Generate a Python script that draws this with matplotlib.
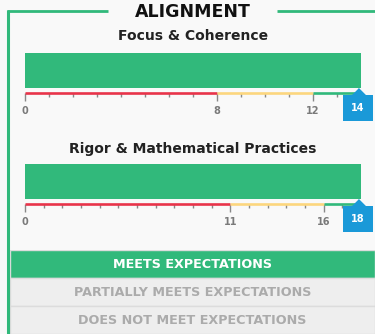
import matplotlib
matplotlib.use("Agg")
import matplotlib.pyplot as plt
import matplotlib.transforms as mtransforms
from matplotlib.lines import Line2D
from matplotlib.ticker import FixedLocator

# donnees
section_title = "ALIGNMENT"
gauge_titles = ["Focus & Coherence", "Rigor & Mathematical Practices"]
gauge_scores = [14, 18]
gauge_max = [14, 18]
gauge_partial = [8, 11]    # debut "partially meets"
gauge_meets = [12, 16]     # debut "meets"
ratings = ["MEETS EXPECTATIONS", "PARTIALLY MEETS EXPECTATIONS", "DOES NOT MEET EXPECTATIONS"]
current_rating = "MEETS EXPECTATIONS"

GREEN = "#31b97b"
RED = "#e8344a"
YELLOW = "#fcd67e"
BLUE = "#1a99d8"
BG = "#f9f9f9"
FONT = "DejaVu Sans"

W, H = 375, 334
fig = plt.figure(figsize=(W / 100, H / 100), dpi=100)
fig.patch.set_facecolor(BG)


def fx(px):
    return px / W


def fy(py):
    return 1 - py / H


# cadre vert
fig.add_artist(Line2D([fx(8), fx(8)], [fy(10), fy(334)], color=GREEN, lw=2.2, solid_capstyle="butt"))
fig.add_artist(Line2D([fx(6.5), fx(108)], [fy(11), fy(11)], color=GREEN, lw=2, solid_capstyle="butt"))
fig.add_artist(Line2D([fx(277), fx(375)], [fy(11), fy(11)], color=GREEN, lw=2, solid_capstyle="butt"))
fig.text(fx(193), fy(12), section_title, ha="center", va="center", fontsize=12.5,
         fontweight="bold", family=FONT, color="#111111")

#----------------------------------------------------------------------
# jauges
tops = [53, 164]
lines = [93, 204]
title_y = [36, 149]

# marqueurs
pointer = [(-1, 0), (1, 0), (0, 1)]
box = [(-15, -13), (15, -13), (15, 13), (-15, 13), (-15, -13)]

for i in range(len(gauge_titles)):
    h = lines[i] - tops[i]
    ax = fig.add_axes([fx(25), fy(lines[i]), fx(361) - fx(25), h / H])
    ax.set_xlim(0, gauge_max[i])
    ax.set_ylim(0, 1)
    ax.patch.set_alpha(0)
    for s in ax.spines.values():
        s.set_visible(False)
    ax.set_yticks([])

    fig.text(fx(193), fy(title_y[i]), gauge_titles[i], ha="center", va="center",
             fontsize=10, fontweight="bold", family=FONT, color="#222222")

    ax.barh(1 - 35 / h / 2, gauge_scores[i], height=35 / h, color=GREEN)

    ax.hlines([0, 0, 0], [0, gauge_partial[i], gauge_meets[i]],
              [gauge_partial[i], gauge_meets[i], gauge_max[i]],
              colors=[RED, YELLOW, GREEN], lw=1.9, clip_on=False, zorder=3)

    majors = [0, gauge_partial[i], gauge_meets[i]]
    ax.set_xticks(majors)
    ax.set_xticklabels([str(v) for v in majors], family=FONT, fontsize=7,
                       fontweight="bold", color="#7a7a7a")
    ax.xaxis.set_minor_locator(FixedLocator([v for v in range(1, gauge_max[i]) if v not in majors]))
    ax.tick_params(axis="x", which="major", length=5.5, width=1, color="#888888", pad=4)
    ax.tick_params(axis="x", which="minor", length=3, width=1, color="#888888")

    # bulle du score
    tr = mtransforms.offset_copy(ax.transData, fig=fig, x=-3, y=0, units="dots")
    tip = 1 - 35 / h
    ax.plot(gauge_scores[i], tip - 7 / h, marker=pointer, ms=10, color=BLUE,
            transform=tr, clip_on=False, zorder=5)
    ax.plot(gauge_scores[i], tip - 20 / h, marker=box, ms=21.6, color=BLUE, mew=0,
            transform=tr, clip_on=False, zorder=5)
    ax.text(gauge_scores[i], tip - 20 / h, str(gauge_scores[i]), transform=tr,
            ha="center", va="center", fontsize=7, fontweight="bold", family=FONT,
            color="white", zorder=6)

#----------------------------------------------------------------------
# niveaux
axr = fig.add_axes([fx(10), 0, 1 - fx(10), 84 / H])
axr.set_xlim(0, 1)
axr.set_ylim(len(ratings) - 0.5, -0.5)
axr.axis("off")
couleurs = [GREEN if r == current_rating else "#eeeeee" for r in ratings]
axr.barh(range(len(ratings)), 1, height=1, color=couleurs, edgecolor="#dcdcdc", lw=1)
for k, r in enumerate(ratings):
    axr.text(0.5, k, r, ha="center", va="center", fontsize=9.2, fontweight="bold", family=FONT,
             color="white" if r == current_rating else "#ababab")

fig.savefig("out.png", dpi=100, facecolor=BG)
